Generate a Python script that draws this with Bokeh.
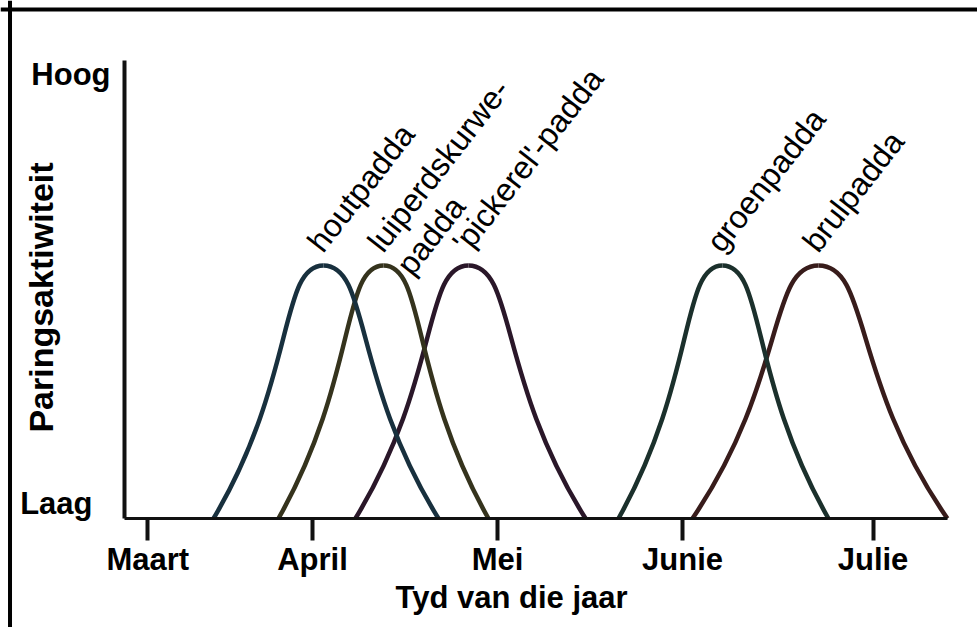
import math
from bokeh.plotting import figure
from bokeh.models import Range1d, LinearAxis, FixedTicker, Label, ColumnDataSource, Span
from bokeh.core.properties import value
from bokeh.embed import file_html
from bokeh.resources import INLINE

# ---- data (x in months, y in relative activity) ----
species_line1 = ["houtpadda", "luiperdskurwe-", "'pickerel'-padda", "groenpadda", "brulpadda"]
species_line2 = ["", "padda", "", "", ""]
season_start = [3.465, 3.816, 4.232, 5.654, 6.054]
season_peak = [4.059, 4.384, 4.843, 6.216, 6.735]
season_end = [4.681, 4.951, 5.476, 6.789, 7.432]
peak_activity = [1.0, 1.0, 1.0, 1.0, 1.0]

month_ticks = [3.11, 4.0, 5.0, 6.0, 7.03]
month_labels = ["Maart", "April", "Mei", "Junie", "Julie"]
level_ticks = [0.059, 1.755]
level_labels = ["Laag", "Hoog"]

curve_colors = ["#18303e", "#35331d", "#2a1729", "#1b302c", "#381c1b"]

FONT = "Liberation Sans"
LABEL_ANGLE = math.radians(52)

p = figure(width=977, height=627,
           x_range=Range1d(2.3135, 7.5946), y_range=Range1d(-0.43083, 2.04743),
           output_backend="svg", toolbar_location=None,
           x_axis_location=None, y_axis_location=None, min_border=0)
p.title.visible = False
p.outline_line_color = None
p.background_fill_color = "white"
p.border_fill_color = "white"
p.grid.visible = False

# ---- bell curves as pairs of cubic beziers ----
lx0, ly0, lx1, ly1, lcx0, lcy0, lcx1, lcy1 = [], [], [], [], [], [], [], []
rx0, ry0, rx1, ry1, rcx0, rcy0, rcx1, rcy1 = [], [], [], [], [], [], [], []
for s, pk, e, h in zip(season_start, season_peak, season_end, peak_activity):
    wl = pk - s
    wr = e - pk
    lx0.append(s); ly0.append(0.0); lx1.append(pk); ly1.append(h)
    lcx0.append(s + 0.75 * wl); lcy0.append(0.55 * h)
    lcx1.append(pk - 0.4 * wl); lcy1.append(h)
    rx0.append(pk); ry0.append(h); rx1.append(e); ry1.append(0.0)
    rcx0.append(pk + 0.4 * wr); rcy0.append(h)
    rcx1.append(e - 0.75 * wr); rcy1.append(0.55 * h)

left_src = ColumnDataSource(dict(x0=lx0, y0=ly0, x1=lx1, y1=ly1, cx0=lcx0, cy0=lcy0,
                                 cx1=lcx1, cy1=lcy1, color=curve_colors))
right_src = ColumnDataSource(dict(x0=rx0, y0=ry0, x1=rx1, y1=ry1, cx0=rcx0, cy0=rcy0,
                                  cx1=rcx1, cy1=rcy1, color=curve_colors))
for src in (left_src, right_src):
    p.bezier(x0="x0", y0="y0", x1="x1", y1="y1", cx0="cx0", cy0="cy0", cx1="cx1", cy1="cy1",
             source=src, line_color="color", line_width=4.5)

# ---- species labels (two lines for the long name) ----
lbl_src = ColumnDataSource(dict(x=season_peak, y=peak_activity, t1=species_line1, t2=species_line2))
common = dict(source=lbl_src, angle=LABEL_ANGLE, text_align="left", text_baseline="alphabetic",
              text_font=value(FONT), text_font_size="32px", text_color="black")
p.text(x="x", y="y", text="t1", x_offset=-9, y_offset=-18, **common)
p.text(x="x", y="y", text="t2", x_offset=20, y_offset=5, **common)

# ---- x axis ----
xaxis = LinearAxis(fixed_location=0, bounds=(2.984, 7.432),
                   ticker=FixedTicker(ticks=month_ticks),
                   major_label_overrides=dict(zip(month_ticks, month_labels)))
xaxis.axis_line_width = 3
xaxis.axis_line_color = "#111111"
xaxis.major_tick_out = 22
xaxis.major_tick_in = 0
xaxis.major_tick_line_width = 4
xaxis.major_tick_line_color = "#111111"
xaxis.minor_tick_line_color = None
xaxis.major_label_text_font = FONT
xaxis.major_label_text_font_style = "bold"
xaxis.major_label_text_font_size = "31px"
xaxis.major_label_text_color = "black"
xaxis.major_label_standoff = 1
p.add_layout(xaxis, "below")

def level_axis(tick, label, standoff, line):
    ax = LinearAxis(fixed_location=2.984, bounds=(0, 1.81),
                    ticker=FixedTicker(ticks=[tick]),
                    major_label_overrides={tick: label})
    if line:
        ax.axis_line_width = 4
        ax.axis_line_color = "#111111"
    else:
        ax.axis_line_color = None
    ax.major_tick_line_color = None
    ax.major_tick_out = 0
    ax.major_tick_in = 0
    ax.minor_tick_line_color = None
    ax.minor_tick_out = 0
    ax.major_label_text_font = FONT
    ax.major_label_text_font_style = "bold"
    ax.major_label_text_font_size = "31px"
    ax.major_label_text_color = "black"
    ax.major_label_standoff = standoff
    return ax

p.add_layout(level_axis(level_ticks[1], level_labels[1], 14, True), "left")
p.add_layout(level_axis(level_ticks[0], level_labels[0], 32, False), "left")

# ---- frame lines (top and left) ----
p.add_layout(Span(location=2.0119, dimension="width", line_width=4, line_color="black"))
p.add_layout(Span(location=2.3649, dimension="height", line_width=4, line_color="black"))

# ---- axis titles ----
p.add_layout(Label(x=5.076, y=-0.314, text="Tyd van die jaar", text_align="center",
                   text_baseline="alphabetic", text_font=FONT, text_font_style="bold",
                   text_font_size="31px", text_color="black"))
p.add_layout(Label(x=2.530, y=0.8735, text="Paringsaktiwiteit", angle=math.pi / 2,
                   text_align="center", text_baseline="alphabetic", text_font=FONT,
                   text_font_style="bold", text_font_size="34px", text_color="black"))

open("out.html", "w").write(file_html(p, INLINE))
